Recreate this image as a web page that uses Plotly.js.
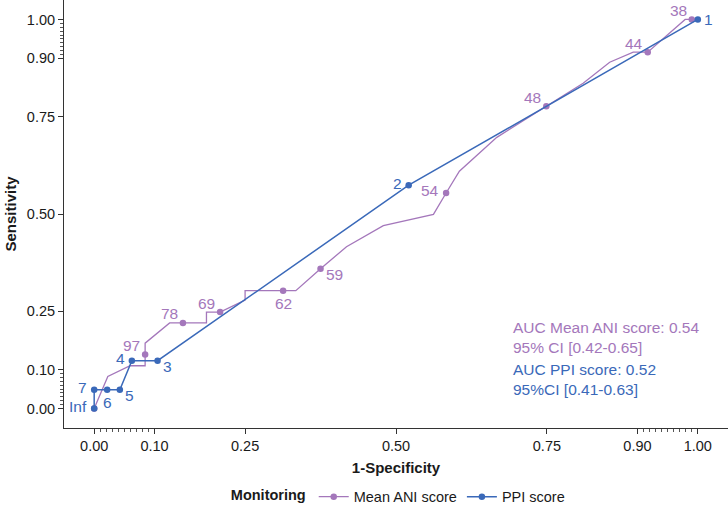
<!DOCTYPE html>
<html>
<head>
<meta charset="utf-8">
<script src="https://cdn.plot.ly/plotly-3.0.1.min.js"></script>
<style>html,body{margin:0;padding:0;background:#fff;}#chart{width:728px;height:510px;}</style>
</head>
<body>
<div id="chart"></div>
<script>
// ---- data ----
const aniFpr = [0, 0.0226, 0.0596, 0.0844, 0.0844, 0.0844, 0.125, 0.147, 0.186, 0.186, 0.2086, 0.25, 0.25, 0.313, 0.334, 0.375, 0.418, 0.479, 0.562, 0.583, 0.605, 0.667, 0.730, 0.749, 0.810, 0.854, 0.893, 0.917, 0.979, 0.99, 1];
const aniTpr = [0, 0.0823, 0.110, 0.110, 0.139, 0.168, 0.220, 0.220, 0.220, 0.248, 0.248, 0.279, 0.303, 0.303, 0.303, 0.359, 0.416, 0.470, 0.499, 0.554, 0.610, 0.697, 0.757, 0.777, 0.836, 0.890, 0.916, 0.916, 1.0, 1.0, 1];
const aniLabels = ['', '', '', '', '97', '', '', '78', '', '', '69', '', '', '62', '', '59', '', '', '', '54', '', '', '', '48', '', '', '', '44', '', '38', ''];

const ppiFpr = [0, 0, 0.0215, 0.0425, 0.0624, 0.105, 0.521, 1];
const ppiTpr = [0, 0.048, 0.048, 0.048, 0.123, 0.123, 0.574, 1];
const ppiLabels = ['Inf', '7', '6', '5', '4', '3', '2', '1'];

const tickVals = [0, 0.10, 0.25, 0.50, 0.75, 0.90, 1.00];
const tickText = ['0.00', '0.10', '0.25', '0.50', '0.75', '0.90', '1.00'];
const minorVals = [0.01,0.02,0.03,0.04,0.05,0.06,0.07,0.08,0.09,0.91,0.92,0.93,0.94,0.95,0.96,0.97,0.98,0.99];

const seriesNames = ['Mean ANI score', 'PPI score'];
const aucText = ['AUC Mean ANI score: 0.54<br>95% CI [0.42-0.65]', 'AUC PPI score: 0.52<br>95%CI [0.41-0.63]'];

// ---- styles ----
const PURPLE = '#a477bb';
const BLUE = '#3a69b9';
const FONT = 'Liberation Sans, Arial, sans-serif';
const aniPos = {'97':'top left','78':'top left','69':'top left','62':'bottom center','59':'bottom right','54':'middle left','48':'top left','44':'top left','38':'top left'};
const ppiPos = {'Inf':'middle left','7':'middle left','6':'bottom center','5':'bottom right','4':'middle left','3':'bottom right','2':'middle left','1':'middle right'};
// label placement relative to the point (pixels)
const placement = {
  'top left':      {xanchor: 'right',  xshift: -3, yshift: 9},
  'middle left':   {xanchor: 'right',  xshift: -5, yshift: 2},
  'bottom right':  {xanchor: 'left',   xshift: 3,  yshift: -6},
  'bottom center': {xanchor: 'center', xshift: 0,  yshift: -13},
  'middle right':  {xanchor: 'left',   xshift: 4,  yshift: 0}
};

const aniMarkerColors = aniLabels.map((l, i) => (l !== '' || i === 0) ? PURPLE : 'rgba(0,0,0,0)');

const traces = [
  {
    x: aniFpr, y: aniTpr, name: seriesNames[0], type: 'scatter', mode: 'lines+markers',
    line: {color: PURPLE, width: 1.3},
    marker: {color: aniMarkerColors, size: 6.5},
    hoverinfo: 'skip'
  },
  {
    x: ppiFpr, y: ppiTpr, name: seriesNames[1], type: 'scatter', mode: 'lines+markers',
    line: {color: BLUE, width: 1.5},
    marker: {color: BLUE, size: 6.5},
    hoverinfo: 'skip'
  }
];

function labelAnn(x, y, text, pos, color) {
  const p = placement[pos];
  return {x: x, y: y, xref: 'x', yref: 'y', text: text, showarrow: false,
          xanchor: p.xanchor, yanchor: 'middle', xshift: p.xshift, yshift: p.yshift,
          font: {family: FONT, size: 15.5, color: color}};
}

const annotations = [];
aniLabels.forEach((l, i) => { if (l !== '') annotations.push(labelAnn(aniFpr[i], aniTpr[i], l, aniPos[l], PURPLE)); });
ppiLabels.forEach((l, i) => { annotations.push(labelAnn(ppiFpr[i], ppiTpr[i], l, ppiPos[l], BLUE)); });
annotations.push(
  {x: 0.69, y: 0.1835, xref: 'x', yref: 'y', xanchor: 'left', yanchor: 'middle', align: 'left', showarrow: false,
   text: aucText[0], font: {family: FONT, size: 15.5, color: PURPLE}},
  {x: 0.69, y: 0.0738, xref: 'x', yref: 'y', xanchor: 'left', yanchor: 'middle', align: 'left', showarrow: false,
   text: aucText[1], font: {family: FONT, size: 15.5, color: BLUE}}
);

const axisCommon = {
  range: [-0.05, 1.05],
  tickmode: 'array', tickvals: tickVals, ticktext: tickText,
  ticks: 'outside', ticklen: 5, tickwidth: 1, tickcolor: '#333',
  showline: true, linecolor: '#333', linewidth: 1,
  showgrid: false, zeroline: false,
  tickfont: {family: FONT, size: 14.5, color: '#1a1a1a'},
  minor: {tickmode: 'array', tickvals: minorVals, ticks: 'outside', ticklen: 3, tickwidth: 1, tickcolor: '#555', showgrid: false}
};

const layout = {
  width: 728, height: 510,
  margin: {l: 64, r: 0, t: 0, b: 82},
  paper_bgcolor: '#fff', plot_bgcolor: '#fff',
  font: {family: FONT, color: '#1a1a1a'},
  xaxis: Object.assign({}, axisCommon, {
    title: {text: '<b>1-Specificity</b>', font: {family: FONT, size: 15, color: '#1a1a1a'}, standoff: 9}
  }),
  yaxis: Object.assign({}, axisCommon, {
    title: {text: '<b>Sensitivity</b>', font: {family: FONT, size: 15, color: '#1a1a1a'}, standoff: 6}
  }),
  showlegend: true,
  legend: {
    orientation: 'h', xref: 'paper', x: 0.505, xanchor: 'center',
    yref: 'container', y: 0.026, yanchor: 'middle',
    title: {text: '<b>Monitoring</b>', side: 'left', font: {family: FONT, size: 14.5, color: '#1a1a1a'}},
    font: {family: FONT, size: 14.5, color: '#1a1a1a'},
    itemwidth: 30, traceorder: 'normal'
  },
  annotations: annotations
};

Plotly.newPlot('chart', traces, layout, {displayModeBar: false, staticPlot: true});
</script>
</body>
</html>
